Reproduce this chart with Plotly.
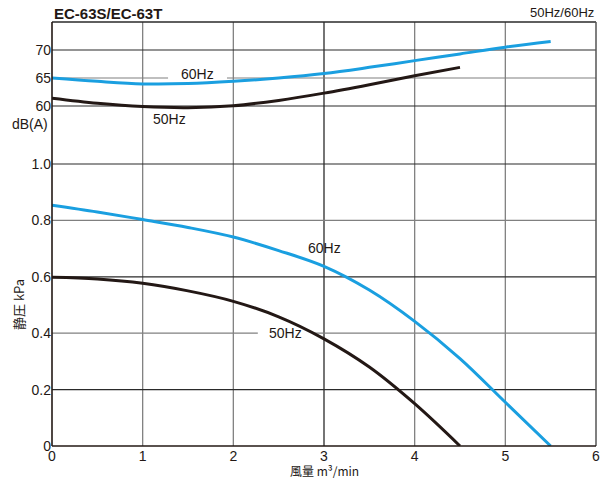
import plotly.graph_objects as go

# ---- data ----
flow_db = [0, 0.5, 1, 1.5, 2, 2.5, 3, 3.5, 4, 4.5, 5, 5.5]
db_60 = [65.0, 64.4, 63.95, 64.0, 64.4, 65.0, 65.8, 66.9, 68.1, 69.3, 70.5, 71.5]
flow_db50 = [0, 0.5, 1, 1.5, 2, 2.5, 3, 3.5, 4, 4.5]
db_50 = [61.4, 60.5, 59.9, 59.7, 60.05, 61.0, 62.3, 63.8, 65.4, 66.9]

flow_p60 = [0, 0.5, 1, 1.5, 2, 2.5, 3, 3.5, 4, 4.5, 5, 5.5]
kpa_60 = [0.854, 0.83, 0.803, 0.775, 0.741, 0.693, 0.637, 0.553, 0.442, 0.31, 0.155, 0.0]
flow_p50 = [0, 0.5, 1, 1.5, 2, 2.5, 3, 3.5, 4, 4.5]
kpa_50 = [0.598, 0.592, 0.577, 0.55, 0.513, 0.458, 0.38, 0.28, 0.15, 0.0]

x_ticks = [0, 1, 2, 3, 4, 5, 6]
kpa_ticks = [0, 0.2, 0.4, 0.6, 0.8, 1.0]
kpa_labels = ["0", "0.2", "0.4", "0.6", "0.8", "1.0"]
db_ticks = [60, 65, 70]

BLUE = "#1a9fe0"
BLACK = "#231815"
DARK = "#2a2a2a"
GRAY = "#808080"
FONT = "Liberation Sans"

fig = go.Figure()
fig.add_trace(go.Scatter(x=flow_p60, y=kpa_60, mode="lines", line=dict(color=BLUE, width=3, shape="spline"), yaxis="y"))
fig.add_trace(go.Scatter(x=flow_p50, y=kpa_50, mode="lines", line=dict(color=BLACK, width=3, shape="spline"), yaxis="y"))
fig.add_trace(go.Scatter(x=flow_db, y=db_60, mode="lines", line=dict(color=BLUE, width=3, shape="spline"), yaxis="y2"))
fig.add_trace(go.Scatter(x=flow_db50, y=db_50, mode="lines", line=dict(color=BLACK, width=3, shape="spline"), yaxis="y2"))

fig.update_layout(
    template="none",
    width=606, height=478,
    margin=dict(l=52, r=10, t=22, b=32, autoexpand=False),
    paper_bgcolor="white", plot_bgcolor="white",
    showlegend=False,
    font=dict(family=FONT, size=14, color="#231815"),
    xaxis=dict(range=[0, 6], tickvals=x_ticks, showgrid=False, automargin=False,
               showline=False, zeroline=False, ticks="", tickfont=dict(size=14)),
    yaxis=dict(range=[0, 1.5035], tickvals=kpa_ticks, ticktext=kpa_labels, showgrid=False,
               automargin=False, showline=False, zeroline=False, ticks="", tickfont=dict(size=14)),
    yaxis2=dict(range=[-0.71, 75], tickvals=db_ticks, overlaying="y", side="left", showgrid=False,
                automargin=False, showline=False, zeroline=False, ticks="", tickfont=dict(size=14)),
)

# grid lines (drawn from the tick lists) and frame
shapes = []
for xv in x_ticks[1:-1]:
    shapes.append(dict(type="line", xref="x", yref="paper", x0=xv, x1=xv, y0=0, y1=1,
                       line=dict(color=DARK if xv == 3 else GRAY, width=1.3), layer="below"))
for yv in kpa_ticks[1:]:
    shapes.append(dict(type="line", xref="paper", yref="y", x0=0, x1=1, y0=yv, y1=yv,
                       line=dict(color=GRAY if yv in (0.4, 0.8) else DARK, width=1.2), layer="below"))
for yv in db_ticks:
    shapes.append(dict(type="line", xref="paper", yref="y2", x0=0, x1=1, y0=yv, y1=yv,
                       line=dict(color=GRAY if yv == 65 else DARK, width=1.2), layer="below"))
# gaps in the grid lines behind two of the curve labels (beneath the curves)
shapes.append(dict(type="rect", xref="x", yref="y2", x0=1.28, x1=1.93, y0=64.6, y1=65.4,
                   fillcolor="white", line=dict(width=0), layer="below"))
shapes.append(dict(type="rect", xref="x", yref="y", x0=2.27, x1=2.88, y0=0.39, y1=0.41,
                   fillcolor="white", line=dict(width=0), layer="below"))
# frame
shapes.append(dict(type="line", xref="paper", yref="paper", x0=0, x1=1, y0=1, y1=1,
                   line=dict(color=DARK, width=1.5), layer="below"))
shapes.append(dict(type="line", xref="paper", yref="paper", x0=1, x1=1, y0=0, y1=1,
                   line=dict(color="#555555", width=1.5), layer="below"))
shapes.append(dict(type="line", xref="paper", yref="paper", x0=0, x1=0, y0=0, y1=1,
                   line=dict(color=BLACK, width=1.6), layer="above"))
shapes.append(dict(type="line", xref="paper", yref="paper", x0=0, x1=1, y0=0, y1=0,
                   line=dict(color=BLACK, width=1.6), layer="above"))
fig.update_layout(shapes=shapes)

annots = [
    dict(text="<b>EC-63S/EC-63T</b>", x=0, y=1, xref="paper", yref="paper", xanchor="left",
         yanchor="bottom", yshift=-2, showarrow=False, font=dict(size=15)),
    dict(text="50Hz/60Hz", x=1, y=1, xref="paper", yref="paper", xanchor="right",
         yanchor="bottom", yshift=0, showarrow=False, font=dict(size=13)),
    dict(text="dB(A)", x=0, y=56.8, xref="paper", yref="y2", xanchor="right", xshift=-2,
         showarrow=False, font=dict(size=14)),
    dict(text="静圧 kPa", x=0, y=0.5, xref="paper", yref="y", xanchor="center", xshift=-34,
         textangle=-90, showarrow=False, font=dict(size=13, family="Noto Sans CJK JP")),
    dict(text="風量 m³/min", x=3, y=0, xref="x", yref="paper", yanchor="top", yshift=-14,
         showarrow=False, font=dict(size=12, family="Noto Sans CJK JP")),
    dict(text="60Hz", x=1.6, y=65.7, xref="x", yref="y2", showarrow=False, font=dict(size=14)),
    dict(text="50Hz", x=1.3, y=57.6, xref="x", yref="y2", showarrow=False, font=dict(size=14)),
    dict(text="60Hz", x=3.0, y=0.703, xref="x", yref="y", showarrow=False, font=dict(size=14)),
    dict(text="50Hz", x=2.57, y=0.4, xref="x", yref="y", showarrow=False, font=dict(size=14)),
]
fig.update_layout(annotations=annots)

fig.write_html("out.html", config={"displayModeBar": False},
               post_script="document.body.style.margin='0';document.body.style.padding='0';")
